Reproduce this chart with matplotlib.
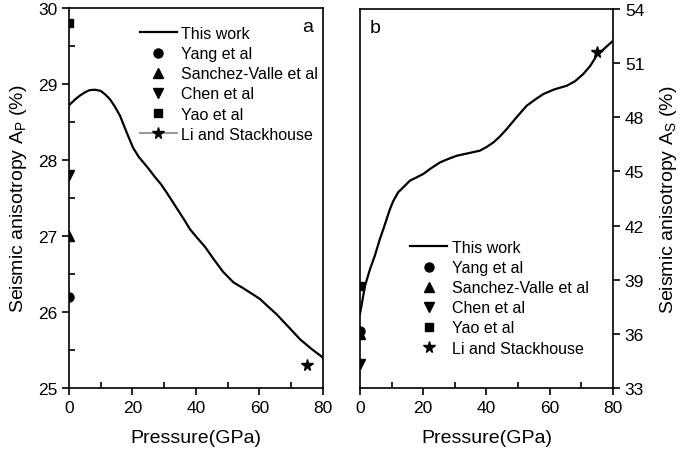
import matplotlib.pyplot as plt
from matplotlib.ticker import MultipleLocator

plt.rcParams["font.family"] = ["Liberation Sans", "DejaVu Sans"]
plt.rcParams["font.size"] = 12

# panel a: P-wave anisotropy
p_a = [0, 1, 2, 3.5, 5, 6.5, 8.2, 10, 11.5, 12.9, 14.5, 16.1, 18.2, 20.2, 22, 23.4, 25, 27,
       29, 30.8, 32.5, 34.5, 36.5, 38.1, 40.5, 42.8, 45.5, 48.5, 51.8, 55, 58, 60.2, 62.5,
       65.4, 69, 72.8, 76.5, 80]
ap_a = [28.72, 28.76, 28.80, 28.85, 28.89, 28.92, 28.925, 28.91, 28.86, 28.80, 28.70, 28.58,
        28.36, 28.16, 28.04, 27.97, 27.89, 27.78, 27.68, 27.57, 27.46, 27.33, 27.20, 27.09,
        26.97, 26.86, 26.70, 26.53, 26.39, 26.31, 26.23, 26.17, 26.08, 25.97, 25.81, 25.64,
        25.51, 25.40]

# panel b: S-wave anisotropy
p_b = [0, 0.85, 1.6, 3.2, 4.7, 6.3, 7.4, 9.5, 10.5, 12.1, 14.2, 15.8, 18, 20.0, 22.5, 25.3,
       28, 30.6, 34.5, 37.9, 40, 42.2, 44.3, 46.4, 49.5, 52.7, 55.5, 58.0, 61.5, 65.4, 68,
       70.6, 72.8, 74.8, 77.5, 80]
as_b = [37.1, 37.93, 38.67, 39.6, 40.33, 41.26, 41.81, 42.92, 43.35, 43.85, 44.21, 44.49,
        44.68, 44.86, 45.18, 45.5, 45.7, 45.87, 46.02, 46.15, 46.35, 46.61, 46.95, 47.35,
        48.0, 48.64, 49.0, 49.29, 49.55, 49.75, 50.0, 50.40, 50.85, 51.41, 51.85, 52.24]

# reference data: (pressure, A_P, A_S)
yang = (0, 26.2, 36.18)
sanchez = (0, 27.0, 36.0)
chen = (0, 27.8, 34.33)
yao = (0, 29.8, 38.67)
li = (75, 25.3, 51.63)

fig = plt.figure(figsize=(6.85, 4.52), dpi=100)
ax1 = fig.add_axes([0.1007, 0.1394, 0.3708, 0.8406])
ax2 = fig.add_axes([0.5255, 0.1394, 0.3694, 0.8384])

ms = 6.5
leg_kw = dict(frameon=False, fontsize=11.5, handlelength=2.3, labelspacing=0.32,
              borderpad=0.2, handletextpad=0.3)

ax1.plot(p_a, ap_a, color="black", lw=1.6, label="This work")
ax1.plot(yang[0], yang[1], "o", color="black", ms=ms, label="Yang et al")
ax1.plot(sanchez[0], sanchez[1], "^", color="black", ms=ms, label="Sanchez-Valle et al")
ax1.plot(chen[0], chen[1], "v", color="black", ms=ms, label="Chen et al")
ax1.plot(yao[0], yao[1], "s", color="black", ms=ms - 1, label="Yao et al")
ax1.plot(li[0], li[1], "*", color="black", ms=ms + 2, label="Li and Stackhouse")
ax1.plot([], [], "-*", color="#999999", mfc="black", mec="black", ms=ms + 2, label="Li and Stackhouse")

h, l = ax1.get_legend_handles_labels()
h = h[:5] + [h[6]]
l = l[:5] + [l[6]]
ax1.legend(h, l, loc="upper left", bbox_to_anchor=(0.235, 0.982), **leg_kw)

ax1.set_xlim(0, 80)
ax1.set_ylim(25, 30)
ax1.xaxis.set_major_locator(MultipleLocator(20))
ax1.xaxis.set_minor_locator(MultipleLocator(10))
ax1.yaxis.set_major_locator(MultipleLocator(1))
ax1.yaxis.set_minor_locator(MultipleLocator(0.5))
ax1.tick_params(which="major", direction="out", length=5, width=1.2, labelsize=12.5)
ax1.tick_params(which="minor", direction="in", length=4, width=1.2)
ax1.set_xlabel("Pressure(GPa)", fontsize=14, labelpad=10)
ax1.set_ylabel("Seismic anisotropy A$_\\mathregular{P}$ (%)", fontsize=14, labelpad=6)
ax1.text(0.96, 0.975, "a", transform=ax1.transAxes, ha="right", va="top", fontsize=14)

ax2.plot(p_b, as_b, color="black", lw=1.6, label="This work")
ax2.plot(yang[0], yang[2], "o", color="black", ms=ms, label="Yang et al")
ax2.plot(sanchez[0], sanchez[2], "^", color="black", ms=ms, label="Sanchez-Valle et al")
ax2.plot(chen[0], chen[2], "v", color="black", ms=ms, label="Chen et al")
ax2.plot(yao[0], yao[2], "s", color="black", ms=ms - 1, label="Yao et al")
ax2.plot(li[0], li[2], "*", color="black", ms=ms + 2, label="Li and Stackhouse")
ax2.legend(loc="upper left", bbox_to_anchor=(0.155, 0.42), **leg_kw)

ax2.set_xlim(0, 80)
ax2.set_ylim(33, 54)
ax2.xaxis.set_major_locator(MultipleLocator(20))
ax2.xaxis.set_minor_locator(MultipleLocator(10))
ax2.yaxis.set_major_locator(MultipleLocator(3))
ax2.yaxis.tick_right()
ax2.yaxis.set_label_position("right")
ax2.tick_params(which="major", direction="out", length=5, width=1.2, labelsize=12.5)
ax2.tick_params(axis="x", which="minor", direction="in", length=4, width=1.2)
ax2.set_xlabel("Pressure(GPa)", fontsize=14, labelpad=10)
ax2.set_ylabel("Seismic anisotropy A$_\\mathregular{S}$ (%)", fontsize=14, labelpad=10)
ax2.text(0.04, 0.975, "b", transform=ax2.transAxes, ha="left", va="top", fontsize=14)

for ax in (ax1, ax2):
    for s in ax.spines.values():
        s.set_linewidth(1.2)

fig.savefig("out.png", dpi=100)
